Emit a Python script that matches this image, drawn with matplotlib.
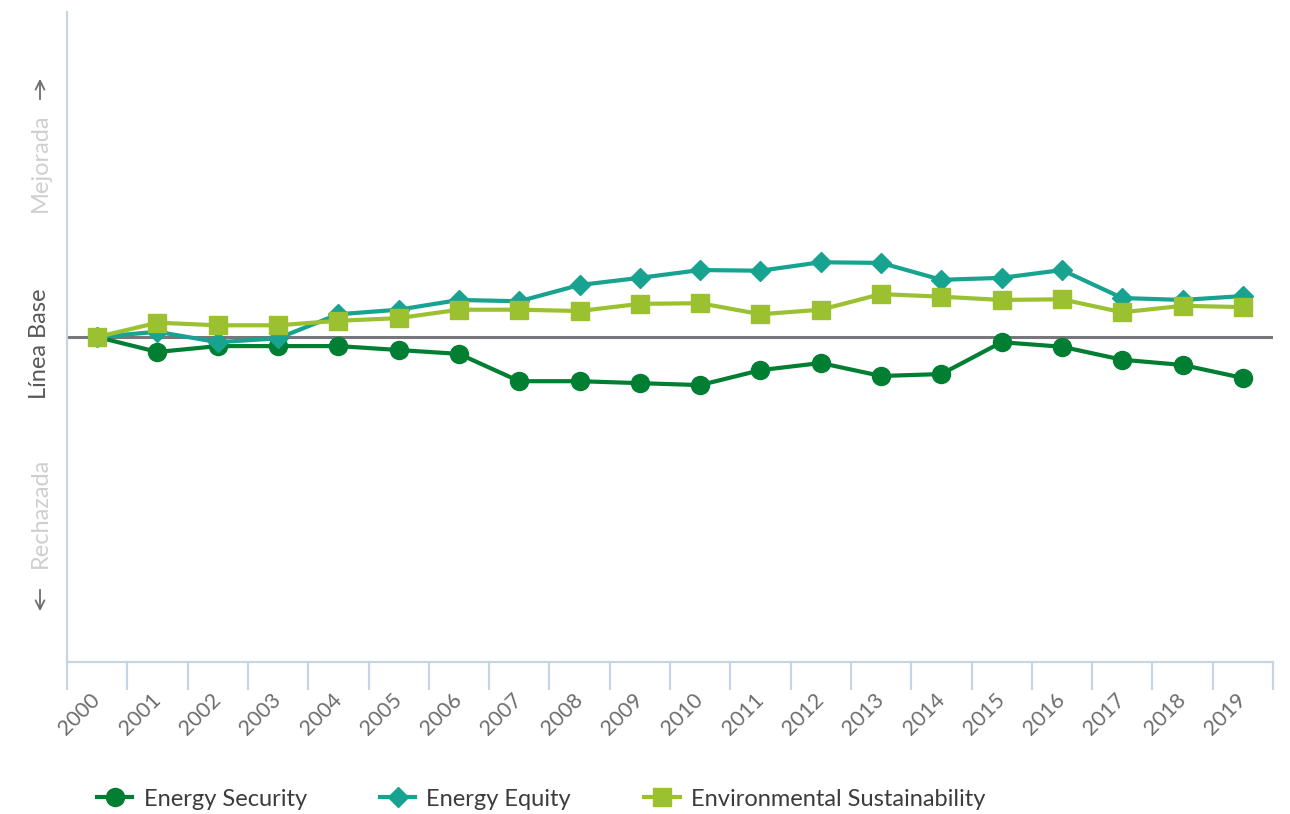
import matplotlib.pyplot as plt
import numpy as np

plt.rcParams['font.family'] = ['Lato', 'DejaVu Sans']

years = [str(y) for y in range(2000, 2020)]
# index relative to 2000 baseline
energy_security = [0, -0.23, -0.14, -0.14, -0.14, -0.20, -0.26, -0.68, -0.68, -0.71,
                   -0.74, -0.51, -0.40, -0.60, -0.57, -0.08, -0.15, -0.35, -0.43, -0.63]
energy_equity = [0, 0.08, -0.08, -0.02, 0.35, 0.42, 0.57, 0.55, 0.80, 0.91,
                 1.03, 1.02, 1.15, 1.14, 0.88, 0.91, 1.03, 0.60, 0.57, 0.63]
env_sustainability = [0, 0.22, 0.18, 0.18, 0.25, 0.29, 0.42, 0.42, 0.40, 0.51,
                      0.52, 0.35, 0.42, 0.66, 0.62, 0.57, 0.58, 0.38, 0.48, 0.46]

c_sec = '#007f33'
c_eq = '#17a390'
c_env = '#9bc131'
axis_col = '#c5d5e4'
text_col = '#6d6d70'

fig = plt.figure(figsize=(12.9, 8.14), dpi=100)
ax = fig.add_axes([67 / 1290, 152 / 814, 1206 / 1290, 650 / 814])

x = np.arange(len(years)) + 0.5
ax.axhline(0, color='#77767b', lw=2.2, zorder=1)
ax.plot(x, energy_security, color=c_sec, lw=3.0, marker='o', ms=13, label='Energy Security', zorder=3)
ax.plot(x, energy_equity, color=c_eq, lw=3.0, marker='D', ms=10.5, label='Energy Equity', zorder=4)
ax.plot(x, env_sustainability, color=c_env, lw=3.0, marker='s', ms=13,
        label='Environmental Sustainability', zorder=5)

ax.set_xlim(0, len(years))
ax.set_ylim(-5.0, 5.0)

for side in ['top', 'right']:
    ax.spines[side].set_visible(False)
for side in ['left', 'bottom']:
    ax.spines[side].set_color(axis_col)
    ax.spines[side].set_linewidth(1.6)

ax.set_yticks([])
ax.set_xticks(np.arange(len(years) + 1))
ax.set_xticklabels([])
ax.tick_params(axis='x', which='major', length=20, width=1.6, color=axis_col)
ax.set_xticks(x, minor=True)
ax.set_xticklabels(years, minor=True, rotation=45, ha='right', va='center',
                   rotation_mode='anchor', fontsize=15.5, color=text_col)
ax.tick_params(axis='x', which='minor', length=0, pad=25)

# y-axis annotations
fig.text(40 / 1290, 1 - 344 / 814, 'Línea Base', rotation=90, ha='center', va='center',
         fontsize=17, color='#58585b')
fig.text(40 / 1290, 1 - 163 / 814, 'Mejorada', rotation=90, ha='center', va='center',
         fontsize=17, color='#cfcfcf')
fig.text(40 / 1290, 1 - 513 / 814, 'Rechazada', rotation=90, ha='center', va='center',
         fontsize=17, color='#cfcfcf')
arrow = dict(arrowstyle='->', color='#6d6d70', lw=1.3, mutation_scale=16)
fig.add_artist(plt.Annotation('', xy=(40 / 1290, 1 - 76 / 814), xytext=(40 / 1290, 1 - 102 / 814),
                              xycoords='figure fraction', arrowprops=arrow))
fig.add_artist(plt.Annotation('', xy=(40 / 1290, 1 - 614 / 814), xytext=(40 / 1290, 1 - 587 / 814),
                              xycoords='figure fraction', arrowprops=arrow))

fig.legend(loc='center left', bbox_to_anchor=(97 / 1290, 1 - 799 / 814), ncol=3,
           frameon=False, fontsize=17, handlelength=1.5, handletextpad=0.47,
           columnspacing=3.1, labelcolor='#3c3c3e', borderaxespad=0, borderpad=0)

fig.savefig('out.png', dpi=100, facecolor='white')
